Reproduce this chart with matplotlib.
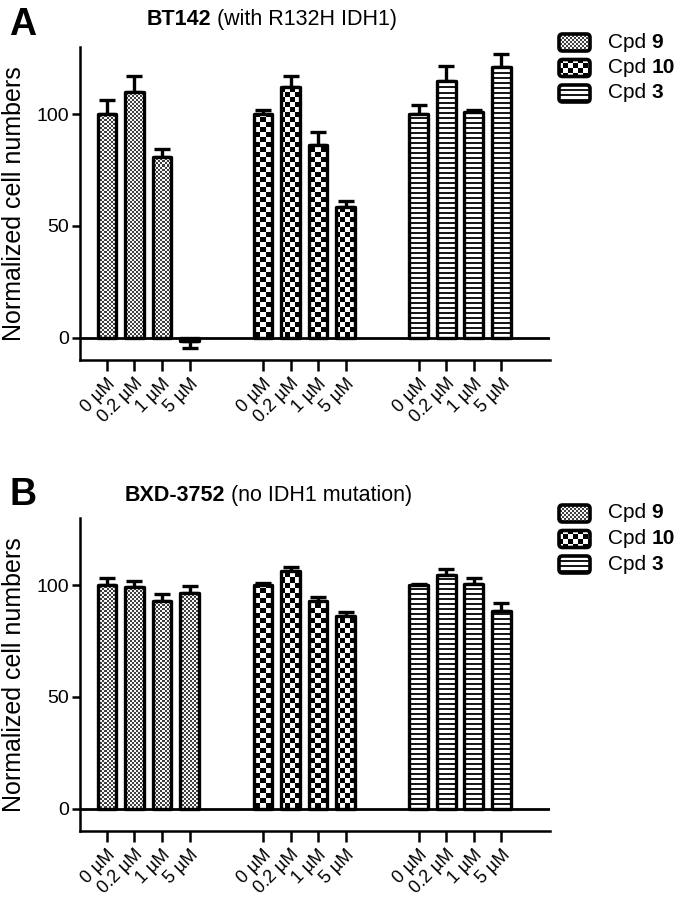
import numpy as np
import matplotlib
matplotlib.use('Agg')
import matplotlib.pyplot as plt
from matplotlib.patches import FancyBboxPatch

plt.rcParams['font.family'] = ['Liberation Sans', 'DejaVu Sans']

# data
doses = ['0 µM', '0.2 µM', '1 µM', '5 µM']
compounds = ['9', '10', '3']

a_vals = [[100, 110, 81, -1.5], [100, 112, 86, 58.5], [100, 115, 101, 121]]
a_errs = [[6.5, 7, 3.5, 3], [2, 5, 6, 2.5], [4, 6.5, 1, 6]]

b_vals = [[100, 99, 93, 96.5], [100, 106.5, 93, 86], [100, 104.5, 100.5, 88.5]]
b_errs = [[3, 3, 3, 3.3], [1, 1.5, 1.7, 1.8], [0.5, 2.8, 2.8, 3.5]]

W, H = 682, 900
kinds = ['fine', 'coarse', 'lines']
group_start = [0, 5.67, 11.33]
bar_w = 0.68


def texture(kind, w, h):
    yy, xx = np.indices((h, w))
    if kind == 'fine':
        return np.where((xx // 2 + yy // 2) % 2, 0.97, 0.25)
    if kind == 'coarse':
        return np.where((xx // 5 + yy // 5) % 2, 1.0, 0.0)
    return np.where(yy % 5 < 2, 0.1, 1.0)


def draw_panel(ax, vals, errs, rect):
    xlim = (-0.98, 16.1)
    ylim = (-10, 130)
    wpx = int(rect[2] * W)
    hpx = int(rect[3] * H)
    ticks = []
    for g in range(3):
        x = np.arange(4) + group_start[g]
        ticks += list(x)
        v = np.array(vals[g])
        e = np.array(errs[g])
        lower = np.where(v < 0, e, 0)
        upper = np.where(v < 0, 0, e)
        ax.errorbar(x, v, yerr=[lower, upper], fmt='none', ecolor='black',
                    elinewidth=2.4, capsize=6, capthick=2.4, zorder=2)
        bars = ax.bar(x, v, width=bar_w, facecolor='none', edgecolor='black',
                      linewidth=2.4, zorder=3)
        tex = texture(kinds[g], wpx, hpx)
        for b in bars:
            b.set_joinstyle('round')
            im = ax.imshow(tex, extent=(xlim[0], xlim[1], ylim[0], ylim[1]),
                           aspect='auto', cmap='gray', vmin=0, vmax=1,
                           interpolation='nearest', zorder=2.5)
            im.set_clip_path(b)
    ax.axhline(0, color='black', lw=2, zorder=4)
    ax.set_xlim(xlim)
    ax.set_ylim(ylim)
    ax.set_yticks([0, 50, 100])
    ax.set_xticks(ticks)
    ax.set_xticklabels(doses * 3, rotation=45, ha='right', va='top',
                       rotation_mode='anchor', fontsize=13)
    ax.tick_params(axis='y', labelsize=14, length=6, width=1.8, pad=2)
    ax.tick_params(axis='x', length=8, width=1.8, pad=3)
    for s in ['top', 'right']:
        ax.spines[s].set_visible(False)
    for s in ['left', 'bottom']:
        ax.spines[s].set_linewidth(1.8)
    ax.set_ylabel('Normalized cell numbers', fontsize=18)
    ax.yaxis.set_label_coords(-0.115, 0.5)


fig = plt.figure(figsize=(W / 100, H / 100), dpi=100)

rect_a = [80 / W, 1 - 360 / H, 470 / W, 313 / H]
rect_b = [80 / W, 1 - 831 / H, 470 / W, 313 / H]
ax_a = fig.add_axes(rect_a)
ax_b = fig.add_axes(rect_b)
draw_panel(ax_a, a_vals, a_errs, rect_a)
draw_panel(ax_b, b_vals, b_errs, rect_b)

# overlay in pixel coordinates for letters, titles and legends
ov = fig.add_axes([0, 0, 1, 1], zorder=10)
ov.set_xlim(0, W)
ov.set_ylim(H, 0)
ov.axis('off')
ov.patch.set_alpha(0)

ov.text(9, 35, 'A', fontsize=27, fontweight='bold', va='baseline')
ov.text(9, 505, 'B', fontsize=27, fontweight='bold', va='baseline')

titles = [('BT142', '(with R132H IDH1)', 147, 25), ('BXD-3752', '(no IDH1 mutation)', 125, 501)]
for bold, rest, tx, ty in titles:
    t1 = ov.text(tx, ty, bold, fontsize=15.5, fontweight='bold', va='baseline')
    ov.annotate(rest, xy=(1, 0), xycoords=t1, xytext=(4, 0),
                textcoords='offset points', fontsize=15.5, va='bottom')

for y0 in [42, 513]:
    for i, num in enumerate(compounds):
        cy = y0 + i * 25.5
        box = FancyBboxPatch((559, cy - 8), 31, 17,
                             boxstyle='round,pad=0,rounding_size=3.5',
                             facecolor='none', edgecolor='black', lw=2.6, zorder=3)
        ov.add_patch(box)
        im = ov.imshow(texture(kinds[i], 33, 19), extent=(558, 591, cy + 10, cy - 9),
                       cmap='gray', vmin=0, vmax=1, interpolation='nearest',
                       aspect='auto', zorder=2)
        im.set_clip_path(box)
        t = ov.text(608, cy, 'Cpd', fontsize=15, va='center')
        ov.annotate(num, xy=(1, 0), xycoords=t, xytext=(4, 0),
                    textcoords='offset points', fontsize=15, fontweight='bold',
                    va='bottom')
ov.set_xlim(0, W)
ov.set_ylim(H, 0)

fig.savefig('out.png', dpi=100)
